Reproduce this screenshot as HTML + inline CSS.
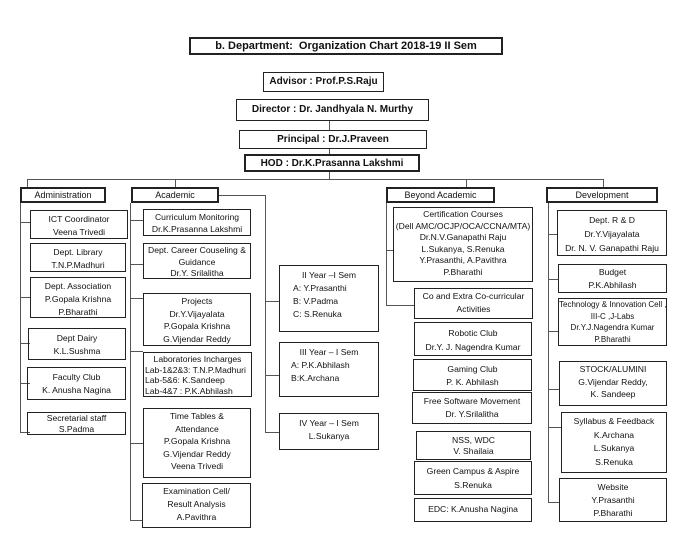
<!DOCTYPE html>
<html><head><meta charset="utf-8"><style>
body{margin:0;width:700px;height:540px;background:#fff;position:relative;overflow:hidden;font-family:"Liberation Sans",sans-serif;color:#111}
.b{position:absolute;border:1px solid #222;box-sizing:border-box;text-align:center;font-size:8.6px;line-height:13px;padding-top:2px;white-space:nowrap;overflow:hidden}
.t{border-width:2px;font-size:9px;line-height:11px;padding-top:1px}
.h{font-family:"Liberation Sans Narrow","Liberation Sans",sans-serif;font-weight:bold;font-size:10px;line-height:14px;padding-top:2px}
.l{position:absolute;background:#555}
.L{text-align:left;padding-left:2px}
</style></head><body>
<div class="b h" style="left:189px;top:37px;width:314px;height:18px;border-width:2px;font-size:11px;line-height:13px;padding-top:1px">b. Department:&nbsp; Organization Chart 2018-19 II Sem</div>
<div class="b h" style="left:263px;top:72px;width:121px;height:20px">Advisor : Prof.P.S.Raju</div>
<div class="b h" style="left:236px;top:99px;width:193px;height:22px;padding-top:3px">Director : Dr. Jandhyala N. Murthy</div>
<div class="b h" style="left:239px;top:130px;width:188px;height:19px">Principal : Dr.J.Praveen</div>
<div class="b h" style="left:244px;top:154px;width:176px;height:18px;border-width:2px;padding-top:1px">HOD : Dr.K.Prasanna Lakshmi</div>
<div class="l" style="left:329px;top:121px;width:1px;height:9px"></div>
<div class="l" style="left:329px;top:149px;width:1px;height:5px"></div>
<div class="l" style="left:329px;top:172px;width:1px;height:8px"></div>
<div class="l" style="left:27px;top:179px;width:577px;height:1px"></div>
<div class="l" style="left:27px;top:179px;width:1px;height:9px"></div>
<div class="l" style="left:175px;top:179px;width:1px;height:9px"></div>
<div class="l" style="left:466px;top:179px;width:1px;height:9px"></div>
<div class="l" style="left:603px;top:179px;width:1px;height:9px"></div>

<div class="b t" style="left:20px;top:187px;width:86px;height:16px">Administration</div>
<div class="b t" style="left:131px;top:187px;width:88px;height:16px">Academic</div>
<div class="b t" style="left:386px;top:187px;width:109px;height:16px">Beyond Academic</div>
<div class="b t" style="left:546px;top:187px;width:112px;height:16px">Development</div>

<!-- Admin -->
<div class="l" style="left:20px;top:203px;width:1px;height:230px"></div>
<div class="l" style="left:20px;top:222px;width:10px;height:1px"></div>
<div class="l" style="left:20px;top:297px;width:10px;height:1px"></div>
<div class="l" style="left:20px;top:343px;width:10px;height:1px"></div>
<div class="l" style="left:20px;top:383px;width:10px;height:1px"></div>
<div class="l" style="left:20px;top:432px;width:10px;height:1px"></div>
<div class="b" style="left:30px;top:210px;width:98px;height:29px">ICT Coordinator<br>Veena Trivedi</div>
<div class="b" style="left:30px;top:243px;width:96px;height:29px">Dept. Library<br>T.N.P.Madhuri</div>
<div class="b" style="left:30px;top:277px;width:96px;height:41px">Dept. Association<br>P.Gopala Krishna<br>P.Bharathi</div>
<div class="b" style="left:28px;top:328px;width:98px;height:32px;padding-top:3px">Dept Dairy<br>K.L.Sushma</div>
<div class="b" style="left:27px;top:367px;width:99px;height:33px;padding-top:3px">Faculty Club<br>K. Anusha Nagina</div>
<div class="b" style="left:27px;top:412px;width:99px;height:23px;padding-top:0;line-height:11px">Secretarial staff<br>S.Padma</div>

<!-- Academic -->
<div class="l" style="left:130px;top:203px;width:1px;height:318px"></div>
<div class="l" style="left:130px;top:220px;width:13px;height:1px"></div>
<div class="l" style="left:130px;top:264px;width:13px;height:1px"></div>
<div class="l" style="left:130px;top:298px;width:13px;height:1px"></div>
<div class="l" style="left:130px;top:351px;width:13px;height:1px"></div>
<div class="l" style="left:130px;top:443px;width:13px;height:1px"></div>
<div class="l" style="left:130px;top:520px;width:12px;height:1px"></div>
<div class="b" style="left:143px;top:209px;width:108px;height:27px;line-height:12px;padding-top:1px">Curriculum Monitoring<br>Dr.K.Prasanna Lakshmi</div>
<div class="b" style="left:143px;top:243px;width:108px;height:36px;line-height:11.5px;padding-top:1px">Dept. Career Couseling &amp;<br>Guidance<br>Dr.Y. Srilalitha</div>
<div class="b" style="left:143px;top:293px;width:108px;height:53px;line-height:12.5px;padding-top:1px">Projects<br>Dr.Y.Vijayalata<br>P.Gopala Krishna<br>G.Vijendar Reddy</div>
<div class="b" style="left:143px;top:352px;width:109px;height:45px;line-height:10.5px;padding-top:1px">Laboratories Incharges<br><span style="display:block;text-align:left;padding-left:1px">Lab-1&amp;2&amp;3: T.N.P.Madhuri<br>Lab-5&amp;6: K.Sandeep<br>Lab-4&amp;7 : P.K.Abhilash</span></div>
<div class="b" style="left:143px;top:408px;width:108px;height:70px;line-height:12.6px;padding-top:1px">Time Tables &amp;<br>Attendance<br>P.Gopala Krishna<br>G.Vijendar Reddy<br>Veena Trivedi</div>
<div class="b" style="left:142px;top:483px;width:109px;height:45px;line-height:13px;padding-top:1px">Examination Cell/<br>Result Analysis<br>A.Pavithra</div>

<div class="l" style="left:219px;top:195px;width:46px;height:1px"></div>
<div class="l" style="left:265px;top:195px;width:1px;height:238px"></div>
<div class="l" style="left:265px;top:301px;width:14px;height:1px"></div>
<div class="l" style="left:265px;top:375px;width:14px;height:1px"></div>
<div class="l" style="left:265px;top:432px;width:14px;height:1px"></div>
<div class="b" style="left:279px;top:265px;width:100px;height:67px;line-height:13px;padding-top:3px">II Year –I Sem<br><span style="display:block;text-align:left;padding-left:13px">A: Y.Prasanthi<br>B: V.Padma<br>C: S.Renuka</span></div>
<div class="b" style="left:279px;top:342px;width:100px;height:55px;line-height:13px;padding-top:3px">III Year – I Sem<br><span style="display:block;text-align:left;padding-left:11px">A: P.K.Abhilash<br>B:K.Archana</span></div>
<div class="b" style="left:279px;top:413px;width:100px;height:37px;line-height:13px;padding-top:3px">IV Year – I Sem<br>L.Sukanya</div>

<!-- Beyond -->
<div class="l" style="left:386px;top:203px;width:1px;height:103px"></div>
<div class="l" style="left:386px;top:250px;width:8px;height:1px"></div>
<div class="l" style="left:386px;top:305px;width:28px;height:1px"></div>
<div class="b" style="left:393px;top:207px;width:140px;height:75px;line-height:11.5px;padding-top:1px">Certification Courses<br>(Dell AMC/OCJP/OCA/CCNA/MTA)<br>Dr.N.V.Ganapathi Raju<br>L.Sukanya, S.Renuka<br>Y.Prasanthi, A.Pavithra<br>P.Bharathi</div>
<div class="b" style="left:414px;top:288px;width:119px;height:31px;line-height:13px;padding-top:1px">Co and Extra Co-curricular<br>Activities</div>
<div class="b" style="left:414px;top:322px;width:118px;height:34px;line-height:14px;padding-top:3px">Robotic Club<br>Dr.Y. J. Nagendra Kumar</div>
<div class="b" style="left:413px;top:359px;width:119px;height:32px;line-height:13px;padding-top:3px">Gaming Club<br>P. K. Abhilash</div>
<div class="b" style="left:412px;top:392px;width:120px;height:32px;line-height:13px;padding-top:2px">Free Software Movement<br>Dr. Y.Srilalitha</div>
<div class="b" style="left:416px;top:431px;width:115px;height:29px;line-height:11px;padding-top:3px">NSS, WDC<br>V. Shailaia</div>
<div class="b" style="left:414px;top:461px;width:118px;height:34px;line-height:14px;padding-top:2px">Green Campus &amp; Aspire<br>S.Renuka</div>
<div class="b" style="left:414px;top:498px;width:118px;height:24px;padding-top:4px">EDC: K.Anusha Nagina</div>

<!-- Development -->
<div class="l" style="left:548px;top:203px;width:1px;height:300px"></div>
<div class="l" style="left:548px;top:234px;width:10px;height:1px"></div>
<div class="l" style="left:548px;top:279px;width:10px;height:1px"></div>
<div class="l" style="left:548px;top:331px;width:10px;height:1px"></div>
<div class="l" style="left:548px;top:389px;width:12px;height:1px"></div>
<div class="l" style="left:548px;top:427px;width:13px;height:1px"></div>
<div class="l" style="left:548px;top:502px;width:11px;height:1px"></div>
<div class="b" style="left:557px;top:210px;width:110px;height:46px;line-height:14px;padding-top:2px">Dept. R &amp; D<br>Dr.Y.Vijayalata<br>Dr. N. V. Ganapathi Raju</div>
<div class="b" style="left:558px;top:264px;width:109px;height:29px;line-height:13px;padding-top:1px">Budget<br>P.K.Abhilash</div>
<div class="b" style="left:558px;top:298px;width:109px;height:48px;line-height:11.5px;padding-top:0;font-size:8px">Technology &amp; Innovation Cell ,<br>III-C ,J-Labs<br>Dr.Y.J.Nagendra Kumar<br>P.Bharathi</div>
<div class="b" style="left:559px;top:361px;width:108px;height:45px;line-height:12.5px;padding-top:1px">STOCK/ALUMINI<br>G.Vijendar Reddy,<br>K. Sandeep</div>
<div class="b" style="left:561px;top:412px;width:106px;height:61px;line-height:13.5px;padding-top:2px">Syllabus &amp; Feedback<br>K.Archana<br>L.Sukanya<br>S.Renuka</div>
<div class="b" style="left:559px;top:478px;width:108px;height:44px;line-height:13px;padding-top:2px">Website<br>Y.Prasanthi<br>P.Bharathi</div>
</body></html>
